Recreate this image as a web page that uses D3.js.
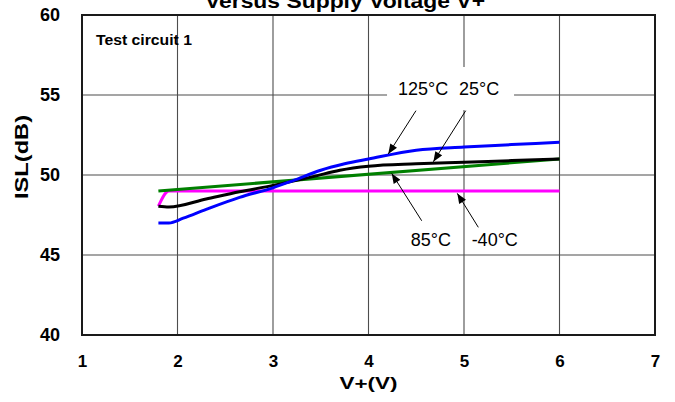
<!DOCTYPE html>
<html>
<head>
<meta charset="utf-8">
<script src="https://cdn.jsdelivr.net/npm/d3@7"></script>
<style>
  html, body { margin: 0; padding: 0; background: #fff; }
  svg { display: block; }
</style>
</head>
<body>
<svg id="chart" width="675" height="402"></svg>
<script>
// Axis ticks
const xTicks = [1, 2, 3, 4, 5, 6, 7];
const yTicks = [40, 45, 50, 55, 60];

// ISL vs supply voltage, one pair of arrays per temperature
const v125 = [1.8, 1.91, 2.06, 2.3, 2.65, 3.0, 3.21, 3.5, 3.75, 4.0, 4.5, 5.0, 5.5, 6.0];
const isl125 = [47.0, 47.0, 47.3, 47.85, 48.6, 49.2, 49.65, 50.3, 50.7, 51.0, 51.55, 51.75, 51.9, 52.05];

const v25 = [1.8, 1.91, 2.3, 2.65, 3.0, 3.42, 3.7, 4.0, 4.5, 5.0, 5.5, 6.0];
const isl25 = [48.05, 48.0, 48.5, 48.95, 49.35, 49.9, 50.3, 50.55, 50.7, 50.8, 50.9, 51.0];

const v85 = [1.8, 6.0];
const isl85 = [49.0, 51.0];

const vM40 = [1.8, 1.91, 6.0];
const islM40 = [48.05, 49.0, 49.0];

const seriesNames = ["-40°C", "85°C", "25°C", "125°C"];
const seriesColors = ["#ff00ff", "#008000", "#000000", "#0000ff"];

// Callouts: label text, label anchor and arrow (tail -> head) in data units
const calloutText = ["125°C", "25°C", "85°C", "-40°C"];
const calloutLabelAt = [[4.309, 55.0], [4.948, 55.0], [4.442, 45.54], [5.08, 45.54]];
const calloutArrow = [
  [[4.497, 54.02], [4.207, 51.31]],
  [[5.018, 54.02], [4.679, 50.83]],
  [[4.557, 47.14], [4.243, 50.10]],
  [[5.15, 46.73], [4.93, 48.85]]
];

const svg = d3.select("#chart");
const margin = { left: 82, right: 20, top: 15, bottom: 67 };
const W = 675, H = 402;
const x = d3.scaleLinear().domain([1, 7]).range([margin.left, W - margin.right]);
const y = d3.scaleLinear().domain([40, 60]).range([H - margin.bottom, margin.top]);

const font = "'Liberation Sans', Arial, sans-serif";

// Grid
const grid = svg.append("g").attr("stroke", "#4d4d4d").attr("stroke-width", 1.1);
grid.selectAll("line.v").data(xTicks.slice(1, -1)).join("line")
  .attr("x1", d => x(d)).attr("x2", d => x(d))
  .attr("y1", y(40)).attr("y2", y(60));
grid.selectAll("line.h").data(yTicks.slice(1, -1)).join("line")
  .attr("x1", x(1)).attr("x2", x(7))
  .attr("y1", d => y(d)).attr("y2", d => y(d));

// White box behind the upper callout labels
svg.append("rect")
  .attr("x", x(4.194)).attr("y", y(56.75))
  .attr("width", x(5.524) - x(4.194)).attr("height", y(54.06) - y(56.75))
  .attr("fill", "#fff");

// Plot frame
svg.append("rect")
  .attr("x", x(1)).attr("y", y(60))
  .attr("width", x(7) - x(1)).attr("height", y(40) - y(60))
  .attr("fill", "none").attr("stroke", "#1a1a1a").attr("stroke-width", 2);

// Axes (labels only; the frame and grid carry the lines)
const xAxis = d3.axisBottom(x).tickValues(xTicks).tickFormat(d3.format("d")).tickSize(0).tickPadding(20);
const gx = svg.append("g").attr("transform", `translate(0,${y(40)})`).call(xAxis);
gx.select(".domain").remove();
gx.selectAll("text").attr("font-family", font).attr("font-size", 17).attr("font-weight", "bold").attr("fill", "#000");

const yAxis = d3.axisLeft(y).tickValues(yTicks).tickFormat(d3.format("d")).tickSize(0).tickPadding(22);
const gy = svg.append("g").attr("transform", `translate(${x(1)},0)`).call(yAxis);
gy.select(".domain").remove();
gy.selectAll("text").attr("font-family", font).attr("font-size", 18).attr("font-weight", "bold").attr("fill", "#000");

// Curves
const seriesV = [vM40, v85, v25, v125];
const seriesY = [islM40, isl85, isl25, isl125];
const line = d3.line().x(d => x(d[0])).y(d => y(d[1])).curve(d3.curveMonotoneX);
seriesV.forEach((vs, i) => {
  const pts = vs.map((v, j) => [v, seriesY[i][j]]);
  svg.append("path")
    .attr("d", line(pts))
    .attr("fill", "none")
    .attr("stroke", seriesColors[i])
    .attr("stroke-width", 3)
    .attr("stroke-linejoin", "round")
    .attr("class", "series");
});

// Callout arrows
svg.append("defs").append("marker")
  .attr("id", "head").attr("viewBox", "0 0 10 8")
  .attr("refX", 10).attr("refY", 4)
  .attr("markerWidth", 11).attr("markerHeight", 8)
  .attr("markerUnits", "userSpaceOnUse")
  .attr("orient", "auto")
  .append("path").attr("d", "M0,0 L10,4 L0,8 Z").attr("fill", "#000");

calloutArrow.forEach(a => {
  svg.append("line")
    .attr("x1", x(a[0][0])).attr("y1", y(a[0][1]))
    .attr("x2", x(a[1][0])).attr("y2", y(a[1][1]))
    .attr("stroke", "#000").attr("stroke-width", 1)
    .attr("marker-end", "url(#head)");
});

calloutText.forEach((t, i) => {
  svg.append("text")
    .attr("x", x(calloutLabelAt[i][0])).attr("y", y(calloutLabelAt[i][1]))
    .attr("font-family", font).attr("font-size", 18).attr("fill", "#000")
    .text(t);
});

// Condition note
svg.append("text")
  .attr("x", x(1) + 14).attr("y", y(60) + 30)
  .attr("font-family", font).attr("font-size", 15).attr("font-weight", "bold")
  .attr("textLength", 96).attr("lengthAdjust", "spacingAndGlyphs")
  .text("Test circuit 1");

// Title (partly above the page edge)
svg.append("text")
  .attr("x", 345).attr("y", 8)
  .attr("text-anchor", "middle")
  .attr("font-family", font).attr("font-size", 20).attr("font-weight", "bold")
  .attr("textLength", 280).attr("lengthAdjust", "spacingAndGlyphs")
  .text("Versus Supply Voltage V+");

// Axis titles
svg.append("text")
  .attr("x", (x(1) + x(7)) / 2).attr("y", 389)
  .attr("text-anchor", "middle")
  .attr("font-family", font).attr("font-size", 17).attr("font-weight", "bold")
  .attr("textLength", 58).attr("lengthAdjust", "spacingAndGlyphs")
  .text("V+(V)");

svg.append("text")
  .attr("transform", `translate(28,${157}) rotate(-90)`)
  .attr("text-anchor", "middle")
  .attr("font-family", font).attr("font-size", 18).attr("font-weight", "bold")
  .attr("textLength", 84).attr("lengthAdjust", "spacingAndGlyphs")
  .text("ISL(dB)");
</script>
</body>
</html>
